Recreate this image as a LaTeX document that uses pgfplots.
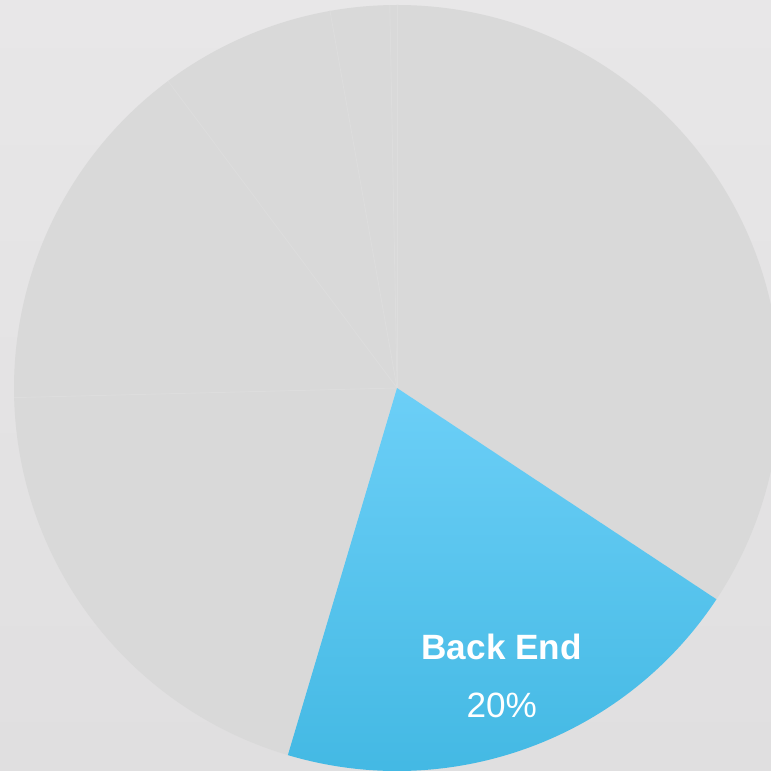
\documentclass[border=0pt]{standalone}
\usepackage{pgfplots}
\pgfplotsset{compat=1.18}
\usepackage{pgfplotstable}
\usepackage{fontspec}
\setmainfont{Liberation Sans}

\definecolor{slicegray}{HTML}{D9D9D9}
\definecolor{sliceline}{HTML}{DDDDDD}
\definecolor{bluetop}{HTML}{6CCFF7}
\definecolor{bluemid}{HTML}{55CDF9}
\definecolor{bluebot}{HTML}{40B7E2}
\definecolor{bgtop}{HTML}{E8E7E8}
\definecolor{bgmid}{HTML}{F4F3F3}
\definecolor{bgbot}{HTML}{E0DFE0}

% pie shares, clockwise from 12 o'clock
\pgfplotstableread{
label value
A 34.3
{Back End} 20.3
C 20.0
D 15.2
E 7.4
F 2.5
G 0.3
}\piedata

\def\R{3.83}

% start / end angle of every slice
\def\curang{90}
\pgfplotsforeachungrouped \i in {0,...,6}{%
  \pgfplotstablegetelem{\i}{value}\of\piedata%
  \pgfmathsetmacro\endang{\curang-3.6*\pgfplotsretval}%
  \expandafter\xdef\csname sstart\i\endcsname{\curang}%
  \expandafter\xdef\csname send\i\endcsname{\endang}%
  \global\let\curang\endang%
}

\begin{document}
\begin{tikzpicture}
  \begin{axis}[
    x=1cm, y=1cm,
    xmin=-3.97, xmax=3.74,
    ymin=-3.82, ymax=3.88,
    hide axis,
    clip=true,
  ]
  \pgfplotsextra{
    \coordinate (bl) at (-3.97,-3.82);
    \coordinate (tr) at (3.74,3.88);
    \begin{scope}
      \clip (-3.97,-3.82) rectangle (3.74,3.88);
      \shade[top color=bgtop, middle color=bgmid, bottom color=bgbot]
        (-3.97,-3.82) rectangle (3.74,3.88);
      \foreach \i in {0,2,3,4,5,6}{
        \pgfmathsetmacro\sa{\csname sstart\i\endcsname}
        \pgfmathsetmacro\ea{\csname send\i\endcsname}
        \fill[slicegray] (0,0) -- ({\R*cos(\sa)},{\R*sin(\sa)})
          arc[start angle=\sa, end angle=\ea, radius=\R cm] -- cycle;
      }
      \foreach \i in {0,2,3,4,5,6}{
        \pgfmathsetmacro\sa{\csname sstart\i\endcsname}
        \draw[sliceline, line width=0.25pt] (0,0) -- ({\R*cos(\sa)},{\R*sin(\sa)});
      }
      \pgfmathsetmacro\sa{\csname sstart1\endcsname}
      \pgfmathsetmacro\ea{\csname send1\endcsname}
      \shade[top color=bluetop, middle color=bluemid, bottom color=bluebot]
        (0,0) -- ({\R*cos(\sa)},{\R*sin(\sa)})
        arc[start angle=\sa, end angle=\ea, radius=\R cm] -- cycle;
      \pgfmathsetmacro\ma{(\sa+\ea)/2}
      \node[text=white, align=center, font=\fontsize{10pt}{16.5pt}\selectfont]
        at ({0.8*\R*cos(\ma)},{0.8*\R*sin(\ma)})
        {\textbf{Back End}\\20\%};
    \end{scope}
  }
  \end{axis}
  \pgfresetboundingbox
  \useasboundingbox (bl) rectangle (tr);
\end{tikzpicture}
\end{document}
